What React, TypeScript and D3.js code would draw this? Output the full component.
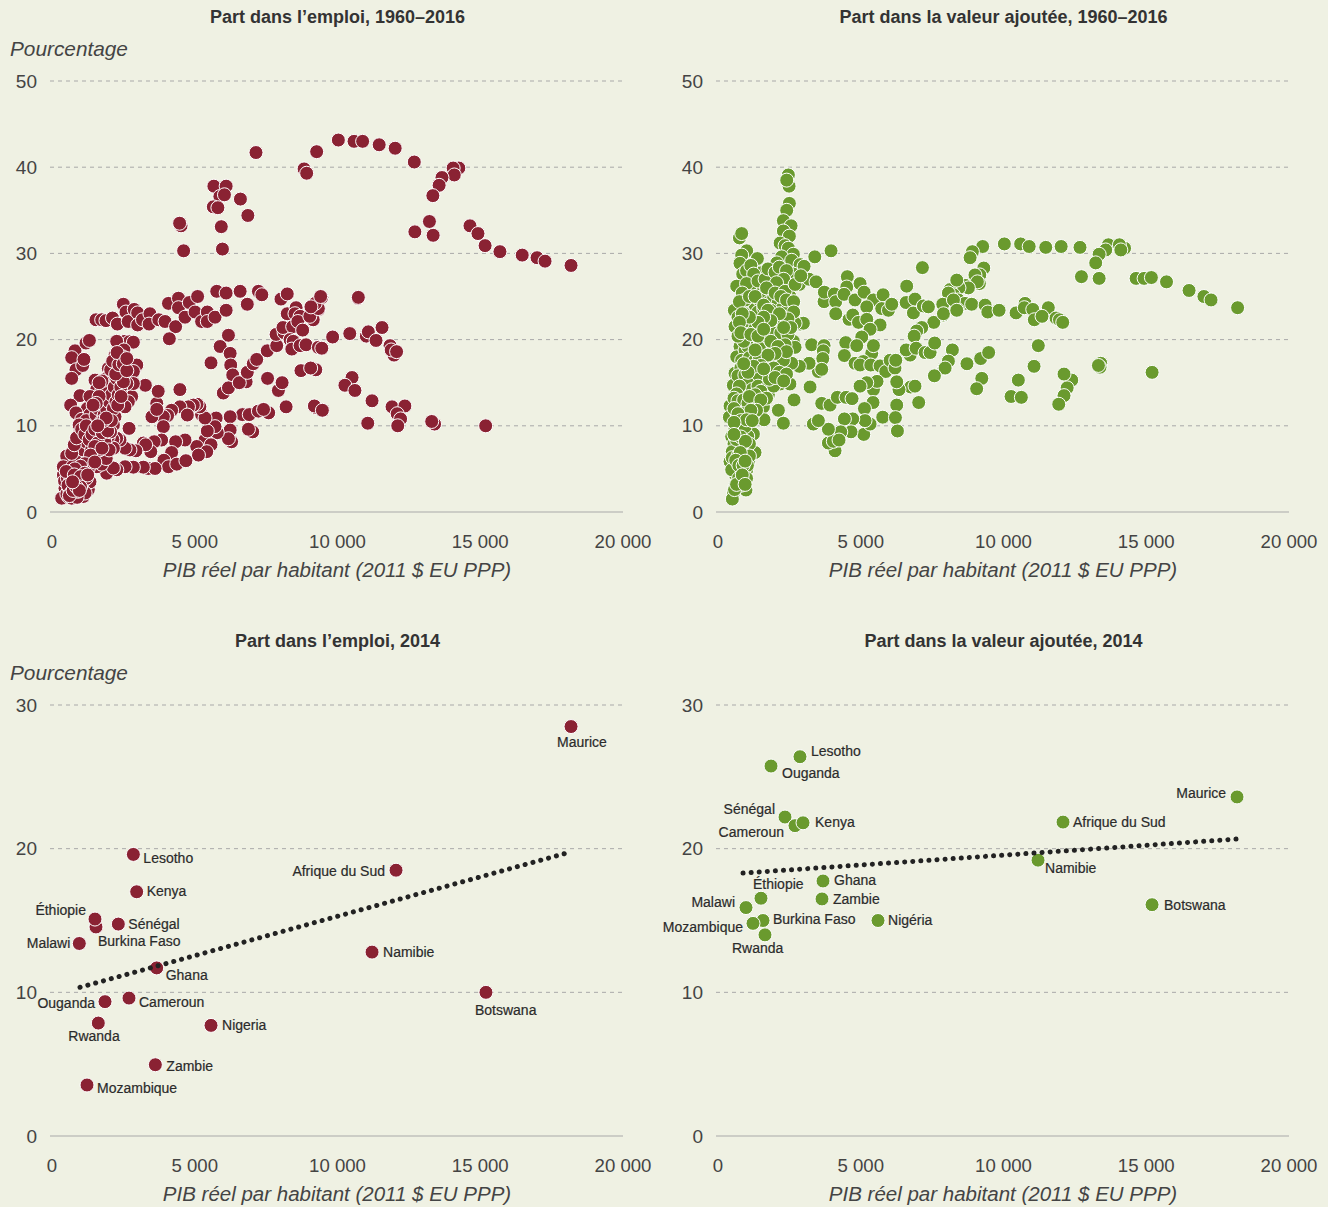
import React from "react";
import * as d3 from "d3";

const BG = "#eff1e3";
const RED = "#8a2233";
const GREEN = "#6a9a2e";

const xTicks = [0, 5000, 10000, 15000, 20000];
const yTicksTop = [0, 10, 20, 30, 40, 50];
const yTicksBottom = [0, 10, 20, 30];

const emploiTop: number[][] = [
[7145,41.7],[9270,41.8],[10030,43.15],[8830,39.8],[8920,39.3],[5670,37.8],[6100,37.8],[5880,36.6],[6040,36.8],[6600,36.3],[5650,35.4],[5810,35.3],[6860,34.4],[4520,33.2],[4470,33.5],[5930,33.1],[4610,30.3],[5970,30.5],
[10580,43.0],[10880,43.0],[11460,42.6],[12020,42.2],[12690,40.6],[14250,39.9],[14050,39.9],[14090,39.1],[13660,38.8],[13560,37.9],[13340,36.7],[13220,33.7],[12710,32.5],[13350,32.1],[14640,33.2],[14920,32.3],[15170,30.9],[15690,30.2],[16470,29.8],[16990,29.5],[17270,29.1],[18180,28.6],
[10720,24.8],[10730,24.9],[9450,24.9],[9340,23.5],[9830,20.3],[10430,20.7],[11010,20.4],[11080,20.9],[11560,21.4],[11350,19.9],[11840,19.3],[11980,18.2],[11880,18.8],[12070,18.6],[10510,15.6],[10260,14.7],[10610,14.1],[11210,12.9],[11910,12.2],[12360,12.3],[12090,11.4],[12210,10.8],[12110,10.0],[11060,10.3],[13400,10.2],[13300,10.5],[15190,10.0],[9480,11.8],[9250,12.1],
[1540,22.3],[1740,22.3],[1890,22.2],[2120,22.5],[2290,21.8],[2500,24.1],[2590,23.2],[2670,22.1],[2880,23.5],[3000,23.1],[3000,21.7],[3170,22.3],[3430,23.0],[3400,21.8],[3740,22.3],[3960,22.1],[4080,24.2],[4430,24.8],[4430,23.7],[4330,21.5],[4110,20.1],[4810,24.3],[4660,22.6],[5010,23.2],[5100,25.0],[5240,22.1],[5440,23.2],[5440,22.1],[5710,22.6],[5770,25.6],[6100,25.4],[6100,23.4],[6590,25.6],[6840,24.1],[7230,25.6],[7350,25.2],
[6180,20.5],[5890,19.2],[6240,18.4],[6260,17.05],[6330,15.9],[5570,17.3],[6000,13.8],[6180,14.4],[6800,15.1],[6560,15.0],[6840,16.2],[7050,17.2],[7170,17.7],[7540,18.7],[7870,19.3],[7850,20.6],[8130,20.8],[8090,21.4],[8430,21.5],[8240,23.0],[8550,23.7],[8510,23.0],[8690,22.7],[8610,22.1],[8780,21.1],[9150,22.3],[9030,22.7],[9330,23.6],[9220,24.2],[9070,23.8],[9410,25.0],[8020,24.7],[8240,25.3],[8340,20.0],[8450,19.8],[8400,18.9],[8690,19.3],[8900,19.4],[9330,19.1],[9450,19.0],
[7550,15.5],[7930,14.1],[8060,15.0],[8200,12.2],[8720,16.4],[9240,16.5],[9060,16.7],[9190,12.3],[9470,11.8],[6670,11.3],[6910,11.3],[7230,11.7],[7590,11.5],[7410,11.9],[6240,11.05],[6240,9.5],[6290,8.15],[6180,8.5],[7030,9.3],[6880,9.6],
[5790,9.2],[5750,10.9],[5710,9.9],[5360,8.35],[5440,9.4],[5240,11.3],[5360,10.9],[5180,12.2],[5080,12.5],[4950,12.4],[4780,12.2],[4480,12.2],[4740,11.25],[4190,11.8],[4050,11.2],[3900,11.05],[3500,11.05],[3670,12.6],[3670,11.9],[4480,14.2],[3720,14.0],[3270,14.7],[3900,9.9],
[5070,7.6],[5570,7.8],[5420,7.0],[5130,6.6],[4660,8.35],[4330,8.15],[4190,6.9],[3920,6.0],[4080,5.25],[4370,5.55],[4690,5.95],[3840,8.35],[3580,8.15],[3460,7.0],[3200,8.0],[3280,7.8],[3370,5.05],[3610,5.05],[3200,5.2],[2850,5.2],[2560,5.25],[2270,4.9],[2940,7.1],[2730,7.2],[2560,7.4],[2700,9.7],[2383,8.35],[2266,8.55],[2130,8.4],[2150,7.4],
[1974,8.75],[1915,4.5],[2150,5.1],[1573,5.25],[1273,5.05],[920,4.5],[400,4.3],
[2406,19.75],[2558,19.8],[2710,19.75],[2850,19.7],[2266,19.8],[806,18.7],[690,17.9],[840,16.5],[690,15.5],[1075,17.0],[1120,17.7],[1190,19.6],[1310,19.9],[2520,18.8],[2476,18.0],[2440,16.85],[2500,15.9],[2970,17.05],[2850,16.3],[2207,18.2],[2090,17.2],[1974,16.65],[2010,15.9],[1915,15.5],[2150,14.9],[2325,14.8],[1507,15.3],[1565,14.2],[2700,14.3],[2790,13.4],[2675,12.8],[2558,12.2],[2850,14.9],[2090,14.0],[1915,13.0],[980,13.5],[1238,12.0],[654,12.4],[840,11.5],[1040,10.75],[1330,13.4],[1682,12.6],[1800,11.8],[2030,11.4],[2207,11.05],[2150,10.1],[1857,9.5],[1682,10.3],[1448,9.9],[1273,9.1],[1098,8.35],[980,9.3],[888,7.8],[1507,11.4],[1740,11.05],[1800,6.8],[1565,6.8],[1273,6.0],[1682,7.8],[1331,7.4],[1156,6.8],[923,5.65],[572,5.65],[514,6.5],[397,5.25],[630,4.5],[1040,4.7],
[1857,14.9],[1740,14.0],[1800,13.0],[1620,11.4],[1507,10.5],[1331,9.7],[1190,8.9],[1075,8.15],[980,7.4],[2130,13.5],[2250,13.9],[2440,14.4],[2620,14.9],[1950,12.4],[1850,12.0],[1660,11.6],[1580,10.8],[1410,10.2],[1300,9.5],[1880,15.0],[2000,14.4],[1900,14.0],[2040,13.4],[1960,13.2],[1730,12.1],[1560,9.2],[1700,8.6],[1850,8.2],[1430,8.4],[1210,7.4],[1450,6.6],[1650,6.2],[1740,5.55],[1900,6.2],[2000,7.2],[1250,5.9],[1080,6.3],[860,6.1],[730,5.3],[1330,11.3],[1200,10.6],
[1098,7.2],[1191,8.15],[1355,9.7],[1542,11.25],[1623,12.0],[1717,12.8],[1799,13.6],[1892,14.5],[2056,16.5],[2126,17.5],[1390,7.2],[1480,8.15],[1640,9.7],[1735,10.5],[1825,11.25],[1910,12.0],[2005,12.8],[2085,13.6],[2180,14.5],[2265,15.5],[2345,16.5],[2415,17.5],[2150,12.0],[2240,12.8],[2320,13.6],[2410,14.5],[2500,15.1],[690,6.8],[780,7.8],[860,8.6],[950,10.1],[1040,9.6],[1150,9.0],[1200,10.0],[1300,8.4],[1400,9.0],[1500,9.6],[1600,8.0],[1760,9.2],[1950,10.0],[2050,9.3],[1950,9.4],[2080,10.6],[1800,10.6],[1900,10.9],[1600,10.0],[1660,7.2],[1500,7.6],[1350,6.6],[1150,5.6],[1000,5.3],[800,5.0],[1500,5.8],[1750,7.4],[2300,12.4],[2420,13.4],[2230,16.0],[2340,17.1],[2280,18.5],[2500,17.2],[2620,16.4],[2620,17.8],[1650,13.4],[1550,12.6],[1440,12.4],[1750,15.2],[1650,15.0],
[455,2.75],[339,1.6],[572,1.8],[806,2.55],[980,2.2],[1273,2.6],[1156,3.1],[748,3.3],[1331,3.5],[1098,1.8],[689,1.6],[520,2.1],[620,2.6],[700,3.0],[830,3.4],[940,3.0],[1040,2.6],[1160,2.2],[760,2.0],[880,1.7],[440,3.6],[540,3.9],[650,3.6],[900,3.9],[1060,3.4],[1200,3.9],[500,4.7],[780,4.3],[1150,4.5],[1000,4.1],[1250,4.3],[560,3.1],[670,2.2],[790,2.9],[900,2.4],[1000,2.9],[610,1.9],[740,2.5],[860,2.9],[960,2.5],[720,3.5]
];

const valeurTop: number[][] = [
[9270,30.8],[8910,30.2],[8830,29.5],[10030,31.1],[10600,31.1],[10900,30.8],[11480,30.7],[12020,30.8],[12680,30.7],[13675,31.0],[13580,30.4],[13350,29.9],[13230,28.9],[12730,27.3],[13350,27.1],[14240,30.6],[14060,31.0],[14110,30.4],[14645,27.1],[14925,27.1],[15180,27.2],[15710,26.7],[16500,25.7],[17020,25.0],[17270,24.6],[18200,23.7],
[9310,28.3],[9170,27.5],[9000,27.5],[9155,26.5],[9085,26.7],[8360,26.8],[8650,26.3],[8770,26.0],[8440,26.0],[8130,25.8],[8245,25.2],[8130,24.8],[7895,24.2],[8420,24.6],[8650,24.2],[8885,24.1],[8385,23.5],[7895,22.85],[9355,24.0],[9450,23.2],[9845,23.4],[10440,23.1],[10755,24.2],[10730,23.7],[11025,23.5],[11080,22.3],[11570,23.7],[11350,22.7],[11840,22.5],[11960,22.3],[12075,22.0],
[11220,19.3],[8210,18.8],[8070,17.5],[7920,16.65],[9200,17.8],[9480,18.5],[8720,17.2],[9240,15.5],[9060,14.3],[11070,16.9],[10520,15.3],[10265,13.4],[10625,13.3],[12390,15.3],[12120,16.0],[12230,14.4],[12120,13.5],[11935,12.5],[13405,17.25],[13380,16.8],[13325,17.0],[15205,16.2],
[2490,37.8],[2465,39.1],[2407,38.5],[2500,35.8],[2407,35.0],[2290,33.8],[2560,33.2],[2290,32.6],[2500,32.0],[750,31.8],[830,32.3],[2175,31.2],[2350,30.9],[2465,30.6],[2640,29.9],[2230,29.6],[2060,28.9],[1820,27.7],[2580,29.2],[2875,28.7],[3015,28.5],[2640,27.6],[2850,26.4],[3190,27.0],[3435,26.7],[3390,29.6],[3960,30.3],[7160,28.35],
[1005,30.3],[830,29.8],[1295,29.0],[1380,29.4],[770,28.85],[865,27.6],[655,26.2],[1120,27.0],[1510,27.75],[2230,26.1],[1880,26.0],[1355,26.0],[1240,25.6],[1530,25.4],[2520,24.2],[2175,24.8],[2520,25.0],
[573,23.4],[890,23.05],[596,21.5],[1297,22.3],[1064,20.35],[1064,21.2],[1706,22.85],[1764,21.9],[2056,23.05],[2175,21.9],[2350,22.3],[2875,21.8],[2990,21.9],[2700,21.9],[1470,20.9],[1998,20.0],[2640,19.8],[2700,19.1],[3280,19.4],[3715,19.3],[3690,18.7],[3670,17.8],[3516,16.3],[3633,16.55],[3190,17.25],[2850,16.9],[2580,17.25],[2290,17.6],[1530,17.3],[1776,17.55],[1414,16.9],[770,19.2],[655,18.0],[947,18.8],[830,17.6],[1590,18.6],[2056,19.4],[596,16.1],[538,14.7],[890,15.3],[1120,15.7],[1297,14.9],[1590,15.4],[1820,16.1],[2175,14.85],[2520,14.85],[1764,13.6],[1355,12.7],[1590,12.2],[3225,14.5],[2664,13.0],[2115,11.8],[2290,10.3],[1613,10.7],[421,12.3],[830,13.8],[1005,14.2],[807,12.4],[398,11.0],[795,11.1],[1120,10.1],[1240,9.05],[1297,6.9],[890,8.35],[795,9.9],[480,8.75],[830,7.6],[421,5.85],[596,5.85],[1064,5.85],[830,6.2],[1005,4.9],[830,3.9],[980,2.55],[713,3.5],[538,2.2],[503,1.5],
[4530,27.3],[4510,26.1],[4976,26.5],[3715,24.4],[3725,25.5],[4077,25.3],[4124,24.4],[4124,23.0],[4415,25.25],[4800,24.6],[5117,25.5],[5444,24.6],[5782,25.2],[5735,23.6],[5970,23.4],[6086,24.1],[5210,23.8],[4590,22.35],[4720,22.85],[4920,22.0],[5210,22.35],[5677,21.7],[5327,21.2],[6610,26.2],[6590,24.3],[6845,23.1],[6900,24.7],[7195,23.9],[7370,23.8],[7558,22.0],[7137,21.4],[6960,21.0],[6870,20.4],[8363,26.9],[8070,25.4],[7873,24.1],[7896,23.0],[8247,24.6],[8363,23.4],
[4474,19.65],[4427,18.15],[5035,20.3],[4860,19.3],[5385,18.4],[5444,19.3],[4800,17.25],[5090,17.45],[4976,17.05],[5350,17.05],[5677,16.95],[5875,16.3],[6030,17.6],[6200,16.7],[6226,17.6],[6730,18.2],[6590,18.8],[6940,19.0],[7255,18.5],[7430,18.5],[7590,19.6],[8210,18.8],[8070,17.5],[7955,16.7],[7580,15.8],[6750,14.5],[6900,14.6],[6340,14.2],[6260,15.1],[5444,14.2],[5570,15.15],[5210,15.0],[4976,14.6],[5430,12.7],[5130,12.0],[6260,12.4],[7030,12.7],[5770,11.0],[6215,10.95],[6285,9.4],[5105,9.0],[5327,10.2],[5150,10.6],[4720,10.8],[4427,10.8],[4660,9.3],[4300,9.3],[4100,7.1],[3867,8.0],[4040,8.2],[4240,8.35],[3867,9.6],[3340,10.2],[3516,10.6],[3633,12.6],[3925,12.4],[4180,13.3],[4486,13.3],[4696,13.15],
[1000,23.5],[1150,24.4],[1300,24.0],[1450,24.6],[1650,25.2],[1800,24.4],[1950,24.9],[2100,24.2],[2250,23.6],[2400,23.3],[1200,22.6],[1400,23.2],[1600,23.6],[1850,23.4],[2000,22.4],[1550,21.8],[1350,21.4],[1150,21.6],[850,21.9],[700,22.6],[950,20.6],[1250,20.0],[1500,20.0],[1700,20.6],[1900,20.8],[2200,20.8],[2450,20.6],[2350,19.4],[1750,19.0],[1450,19.0],[1200,18.6],[1050,19.2],[900,19.8],[700,20.4],
[1100,17.9],[1300,17.6],[1450,18.0],[1000,16.9],[1200,16.4],[1400,15.9],[1650,16.6],[1950,16.7],[2150,16.2],[2400,16.0],[800,16.7],[700,15.8],[940,15.9],[1050,14.9],[1200,14.2],[1400,14.6],[1650,14.2],[1950,14.6],[750,14.6],[650,13.7],[560,13.2],[700,12.9],[900,13.0],[1050,12.6],[1200,13.3],[650,11.6],[560,12.0],[900,11.4],[1050,11.2],[1250,11.4],[700,10.3],[880,10.4],[600,9.7],[700,9.0],[880,9.3],[1040,8.8],[560,7.9],[700,7.3],[950,7.3],[1100,7.9],[500,7.0],[500,6.3],[700,6.5],[960,6.6],[1100,6.5],[720,4.6],[900,4.6],[1030,5.4],[620,4.3],[480,4.9],[800,3.1],[600,3.0],[580,2.6],[900,3.4],[1000,3.9],
[1000,28.0],[1150,28.6],[1250,27.6],[1000,26.5],[1400,26.8],[1650,27.0],[1750,28.2],[2000,27.8],[2150,28.4],[2400,28.0],[2300,27.0],[2050,26.6],[1700,26.0],[850,25.4],[950,24.6],[750,24.4],[1100,25.0],[2000,25.4],[2350,25.6],[2700,26.4],[2900,27.4],[1300,25.0],[1600,24.0],[1750,23.4],[2200,25.0],[2400,24.6],[2650,24.4],[2650,23.2],[2450,22.4],[2150,23.0],[2550,21.4],[2300,21.4],[1850,22.2],[1600,22.6],[1400,22.0],[1100,22.6],[850,23.0],[750,22.0],[800,20.8],[1150,20.6],[1400,20.4],[1600,21.2],[1850,19.8],[2100,19.2],[2400,18.6],[2000,18.4],[1750,18.2],[1300,18.8],[1500,17.0],[1250,16.9],[1050,16.2],[900,17.2],[1800,15.4],[2000,15.6],[2300,15.2],[1600,16.6],[1500,14.0],[1300,13.6],[1100,13.4],[1700,13.2],[1500,13.0],[1350,11.8],[1150,11.8],[700,11.4],[800,10.6],[950,9.9],[1000,10.7],[1200,10.6],[560,10.4],[650,8.4],[800,8.7],[960,8.2],[560,9.0],[780,6.9],[620,6.0],[730,5.4],[880,5.4],[950,5.9],[720,3.9],[650,3.2],[850,4.3],[950,3.2]
];

const paysEmploi = ["Lesotho","Kenya","Burkina Faso","Éthiopie","Sénégal","Malawi","Ghana","Ouganda","Cameroun","Rwanda","Nigeria","Zambie","Mozambique","Afrique du Sud","Namibie","Botswana","Maurice"];
const emploiX = [2850,2966,1541,1506,2323,957,3667,1857,2697,1622,5570,3620,1226,12050,11210,15200,18180];
const emploiY = [19.6,17.0,14.55,15.1,14.75,13.4,11.7,9.35,9.6,7.86,7.7,4.96,3.55,18.5,12.8,10.0,28.5];
// label offsets from the mark
const emploiDx = [10,10,2,-9,10,-9,9,-10,10,-30,11,11,10,-11,11,-11,-14];
const emploiDy = [4,0,15,-9,0,0,8,2,4,13,0,2,4,1,0,18,16];
const emploiAnchor = ["start","start","start","end","start","end","start","end","start","start","start","start","start","end","start","start","start"];
const emploiLine = [[981,10.35],[18040,19.7]];

const paysValeur = ["Lesotho","Ouganda","Sénégal","Cameroun","Kenya","Maurice","Afrique du Sud","Namibie","Éthiopie","Ghana","Zambie","Malawi","Burkina Faso","Mozambique","Nigéria","Rwanda","Botswana"];
const valeurX = [2872,1857,2347,2697,2978,18180,12085,11210,1506,3678,3643,981,1576,1226,5605,1646,15203];
const valeurY = [26.4,25.75,22.2,21.6,21.8,23.6,21.85,19.2,16.55,17.75,16.5,15.9,15.0,14.8,15.0,14.0,16.1];
const valeurDx = [11,11,-10,-11,12,-11,10,7,-8,11,11,-11,10,-10,10,-33,12];
const valeurDy = [-5,7,-8,7,0,-3,0,8,-14,0,1,-5,-1,4,0,14,1];
const valeurAnchor = ["start","start","end","end","start","end","start","start","start","start","start","end","start","end","start","start","start"];
const valeurLine = [[876,18.3],[18390,20.7]];

const fmt = (v: number) => (v >= 1000 ? d3.format(",")(v).replace(",", " ") : String(v));
const sans = "'Liberation Sans', Arial, sans-serif";

type PanelProps = {
  x0: number; title: string; top: number; bottom: number; yMax: number; yTicks: number[];
  showUnit: boolean; color: string; points?: number[][];
  labels?: { names: string[]; xs: number[]; ys: number[]; dx: number[]; dy: number[]; anchor: string[]; line: number[][] };
};

function Panel({ x0, title, top, bottom, yMax, yTicks, showUnit, color, points, labels }: PanelProps) {
  const x = d3.scaleLinear().domain([0, 20000]).range([x0, x0 + 571]);
  const y = d3.scaleLinear().domain([0, yMax]).range([bottom, top]);
  const line = d3.line<number[]>().x((d) => x(d[0])).y((d) => y(d[1]));
  return (
    <g fontFamily={sans}>
      <text x={x0 + 285.5} y={top - 58.5} textAnchor="middle" fontWeight="700" fontSize={18} fill="#333">{title}</text>
      {showUnit && (
        <text x={10} y={top - 25} fontStyle="italic" fontSize={20.8} fill="#444">Pourcentage</text>
      )}
      {yTicks.map((t) => (
        <g key={t}>
          <line x1={x0 - 2} x2={x0 + 571} y1={y(t)} y2={y(t)} stroke="#a9a9a9" strokeWidth={1}
            strokeDasharray={t === 0 ? undefined : "4 4"} />
          <text x={x0 - 15} y={y(t) + 6.5} textAnchor="end" fontSize={19} fill="#444">{t}</text>
        </g>
      ))}
      {xTicks.map((t) => (
        <text key={t} x={x(t)} y={bottom + 36} textAnchor="middle" fontSize={18.6} fill="#444">{fmt(t)}</text>
      ))}
      <text x={x0 + 285} y={bottom + 64.5} textAnchor="middle" fontStyle="italic" fontSize={20.5} fill="#444">
        PIB réel par habitant (2011 $ EU PPP)
      </text>
      {points && points.map((p, i) => (
        <circle key={i} cx={x(p[0])} cy={y(p[1])} r={7} fill={color} stroke="#fff" strokeWidth={1} />
      ))}
      {labels && labels.xs.map((v, i) => (
        <circle key={i} cx={x(v)} cy={y(labels.ys[i])} r={7} fill={color} stroke="#fff" strokeWidth={1} />
      ))}
      {labels && labels.xs.map((v, i) => (
        <text key={i} x={x(v) + labels.dx[i]} y={y(labels.ys[i]) + labels.dy[i] + 4.5}
          textAnchor={labels.anchor[i]} fontSize={14} stroke="#2b2b2b" strokeWidth={0.2} fill="#2b2b2b">
          {labels.names[i]}
        </text>
      ))}
      {labels && (
        <path d={line(labels.line) as string} fill="none" stroke="#222" strokeWidth={5} strokeLinecap="round" strokeDasharray="0.1 8" />
      )}
    </g>
  );
}

export default function App() {
  return (
    <svg width={1328} height={1207} style={{ position: "absolute", left: 0, top: 0, display: "block" }}>
      <rect width={1328} height={1207} fill={BG} />
      <Panel x0={52} title="Part dans l’emploi, 1960–2016" top={81} bottom={512} yMax={50} yTicks={yTicksTop} showUnit color={RED} points={emploiTop} />
      <Panel x0={718} title="Part dans la valeur ajoutée, 1960–2016" top={81} bottom={512} yMax={50} yTicks={yTicksTop} showUnit={false} color={GREEN} points={valeurTop} />
      <Panel x0={52} title="Part dans l’emploi, 2014" top={705} bottom={1136} yMax={30} yTicks={yTicksBottom} showUnit color={RED}
        labels={{ names: paysEmploi, xs: emploiX, ys: emploiY, dx: emploiDx, dy: emploiDy, anchor: emploiAnchor, line: emploiLine }} />
      <Panel x0={718} title="Part dans la valeur ajoutée, 2014" top={705} bottom={1136} yMax={30} yTicks={yTicksBottom} showUnit={false} color={GREEN}
        labels={{ names: paysValeur, xs: valeurX, ys: valeurY, dx: valeurDx, dy: valeurDy, anchor: valeurAnchor, line: valeurLine }} />
    </svg>
  );
}
